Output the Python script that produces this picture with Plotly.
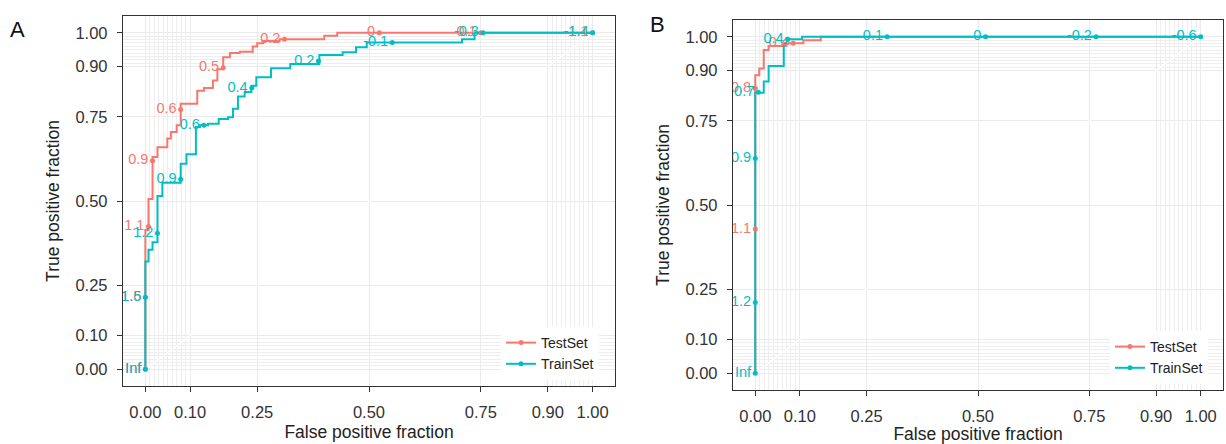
import plotly.graph_objects as go

# ---------------- data ----------------
# Panel A – ROC step corners (fpf, tpf): curve goes right then up ('hv')
a_test_fpf = [0, 0, 0.007, 0.016, 0.027, 0.049, 0.057, 0.070, 0.079, 0.116, 0.131, 0.151, 0.161, 0.174, 0.189, 0.211, 0.240, 0.250, 0.263, 0.300, 0.400, 0.429, 1.0]
a_test_tpf = [0, 0.414, 0.506, 0.631, 0.660, 0.686, 0.705, 0.725, 0.789, 0.828, 0.836, 0.858, 0.892, 0.927, 0.940, 0.944, 0.959, 0.969, 0.976, 0.981, 0.991, 1.0, 1.0]
a_train_fpf = [0, 0, 0.007, 0.016, 0.027, 0.038, 0.079, 0.092, 0.113, 0.122, 0.140, 0.164, 0.185, 0.196, 0.207, 0.222, 0.237, 0.248, 0.281, 0.324, 0.389, 0.441, 0.471, 0.495, 0.708, 0.736, 1.0]
a_train_tpf = [0, 0.320, 0.355, 0.377, 0.515, 0.554, 0.611, 0.639, 0.720, 0.725, 0.730, 0.744, 0.749, 0.774, 0.811, 0.824, 0.843, 0.868, 0.895, 0.907, 0.934, 0.942, 0.957, 0.971, 0.981, 1.0, 1.0]

# Panel A – cutoff points
a_test_cut_fpf = [0, 0, 0.007, 0.016, 0.079, 0.174, 0.311, 0.523, 0.750, 1.0]
a_test_cut_tpf = [0, 0.214, 0.424, 0.620, 0.772, 0.896, 0.981, 1.0, 1.0, 1.0]
a_test_cut_lab = ["Inf", "1.6", "1.1", "0.9", "0.6", "0.5", "0.2", "0", "0.1", "-1.1"]
a_train_cut_fpf = [0, 0, 0.027, 0.079, 0.131, 0.238, 0.387, 0.552, 0.755, 1.0]
a_train_cut_tpf = [0, 0.214, 0.404, 0.565, 0.725, 0.836, 0.916, 0.971, 1.0, 1.0]
a_train_cut_lab = ["Inf", "1.5", "1.2", "0.9", "0.6", "0.4", "0.2", "-0.1", "-0.3", "-1.4"]

# Panel B – ROC step corners
b_test_fpf = [0, 0, 0.009, 0.019, 0.030, 0.067, 0.108, 0.147, 1.0]
b_test_tpf = [0, 0.886, 0.906, 0.961, 0.973, 0.981, 0.990, 1.0, 1.0]
b_train_fpf = [0, 0, 0.019, 0.030, 0.064, 0.072, 0.105, 1.0]
b_train_tpf = [0, 0.834, 0.867, 0.913, 0.981, 0.993, 1.0, 1.0]

# Panel B – cutoff points
b_test_cut_fpf = [0, 0, 0.085]
b_test_cut_tpf = [0.429, 0.847, 0.981]
b_test_cut_lab = ["1.1", "0.8", "0.4"]
b_train_cut_fpf = [0, 0, 0, 0.007, 0.073, 0.296, 0.517, 0.765, 1.0]
b_train_cut_tpf = [0, 0.210, 0.638, 0.835, 0.993, 1.0, 1.0, 1.0, 1.0]
b_train_cut_lab = ["Inf", "1.2", "0.9", "0.7", "0.4", "0.1", "0", "-0.2", "-0.6"]

series_names = ["TestSet", "TrainSet"]
tick_vals = [0, 0.1, 0.25, 0.5, 0.75, 0.9, 1.0]
tick_text = ["0.00", "0.10", "0.25", "0.50", "0.75", "0.90", "1.00"]
minor_vals = [i / 100 for i in range(1, 10)] + [i / 100 for i in range(91, 100)]

RED = "#F8766D"
TEAL = "#00BFC4"
FONT = "Liberation Sans, Arial, Helvetica, sans-serif"

W, H = 1226, 444
fig = go.Figure()

panels = [
    dict(xa="x", ya="y", legend="legend",
         test=(a_test_fpf, a_test_tpf), train=(a_train_fpf, a_train_tpf),
         tcut=(a_test_cut_fpf, a_test_cut_tpf, a_test_cut_lab),
         rcut=(a_train_cut_fpf, a_train_cut_tpf, a_train_cut_lab)),
    dict(xa="x2", ya="y2", legend="legend2",
         test=(b_test_fpf, b_test_tpf), train=(b_train_fpf, b_train_tpf),
         tcut=(b_test_cut_fpf, b_test_cut_tpf, b_test_cut_lab),
         rcut=(b_train_cut_fpf, b_train_cut_tpf, b_train_cut_lab)),
]

for p in panels:
    # diagonal reference (light, visible only on grid)
    fig.add_trace(go.Scatter(x=[0, 1], y=[0, 1], mode="lines", xaxis=p["xa"], yaxis=p["ya"],
                             line=dict(color="#ffffff", width=1.2), showlegend=False, hoverinfo="skip"))
    for name, col, curve in [(series_names[0], RED, p["test"]), (series_names[1], TEAL, p["train"])]:
        fig.add_trace(go.Scatter(x=curve[0], y=curve[1], mode="lines", line_shape="hv",
                                 xaxis=p["xa"], yaxis=p["ya"],
                                 line=dict(color=col, width=2), showlegend=False))
    for name, col, cut in [(series_names[0], RED, p["tcut"]), (series_names[1], TEAL, p["rcut"])]:
        fig.add_trace(go.Scatter(x=cut[0], y=cut[1], text=cut[2], mode="markers+text",
                                 textposition="middle left", xaxis=p["xa"], yaxis=p["ya"],
                                 marker=dict(color=col, size=5),
                                 textfont=dict(color=col, size=14.5, family=FONT),
                                 showlegend=False))
    for name, col in [(series_names[0], RED), (series_names[1], TEAL)]:
        fig.add_trace(go.Scatter(x=[None], y=[None], mode="lines+markers", name=name,
                                 xaxis=p["xa"], yaxis=p["ya"], legend=p["legend"],
                                 line=dict(color=col, width=2), marker=dict(color=col, size=5)))

def ax(domain, anchor, title, standoff):
    return dict(domain=domain, anchor=anchor, range=[-0.05, 1.05],
                tickvals=tick_vals, ticktext=tick_text, ticks="outside", ticklen=5,
                tickcolor="#333333", tickwidth=1, ticklabelstandoff=6,
                tickfont=dict(size=16.5, color="#333333", family=FONT),
                showline=True, mirror=True, linecolor="#333333", linewidth=1.3,
                showgrid=True, gridcolor="#ebebeb", gridwidth=1.1, zeroline=False,
                minor=dict(tickvals=minor_vals, showgrid=True, gridcolor="#eeeeee", gridwidth=0.7, ticks=""),
                title=dict(text=title, font=dict(size=17.5, color="#222222", family=FONT), standoff=standoff),
                automargin=False, fixedrange=True)

fig.update_layout(
    width=W, height=H, margin=dict(l=0, r=0, t=0, b=0),
    paper_bgcolor="white", plot_bgcolor="white",
    font=dict(family=FONT),
    xaxis=ax([123 / W, 615 / W], "y", "False positive fraction", 5),
    yaxis=ax([1 - 386 / H, 1 - 16 / H], "x", "True positive fraction", 11),
    xaxis2=ax([733 / W, 1223 / W], "y2", "False positive fraction", 5),
    yaxis2=ax([1 - 390 / H, 1 - 20 / H], "x2", "True positive fraction", 11),
    legend=dict(x=501 / W, y=1 - 327 / H, xanchor="left", yanchor="top", bgcolor="white",
                font=dict(size=14, color="#222222", family=FONT), itemwidth=30, tracegroupgap=0),
    legend2=dict(x=1110 / W, y=1 - 331 / H, xanchor="left", yanchor="top", bgcolor="white",
                 font=dict(size=14, color="#222222", family=FONT), itemwidth=30, tracegroupgap=0),
    annotations=[
        dict(text="A", x=17 / W, y=1 - 29 / H, xref="paper", yref="paper", showarrow=False,
             xanchor="center", yanchor="middle",
             font=dict(size=22, color="#111111", family=FONT)),
        dict(text="B", x=657 / W, y=1 - 25 / H, xref="paper", yref="paper", showarrow=False,
             xanchor="center", yanchor="middle",
             font=dict(size=22, color="#111111", family=FONT)),
    ],
)

fig.write_html("out.html", config={"displayModeBar": False},
               post_script="document.body.style.margin='0px';document.body.style.overflow='hidden';")
